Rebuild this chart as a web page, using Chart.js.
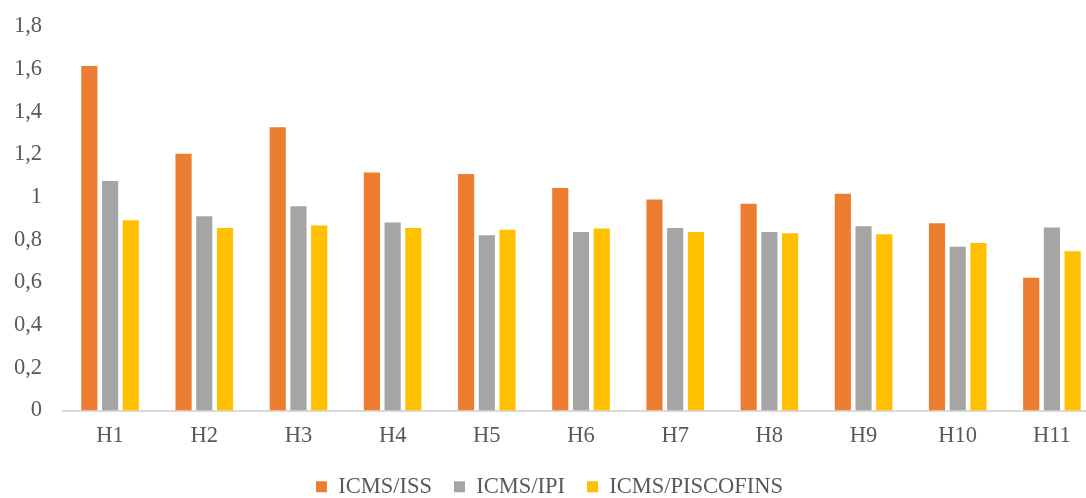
<!DOCTYPE html>
<html>
<head>
<meta charset="utf-8">
<script src="https://cdn.jsdelivr.net/npm/chart.js@4/dist/chart.umd.min.js"></script>
<style>
  html, body { margin: 0; padding: 0; background: #fff; overflow: hidden; }
  #wrap { width: 1100px; height: 498px; overflow: hidden; }
</style>
</head>
<body>
<div id="wrap"><canvas id="grafico" width="1100" height="508"></canvas></div>
<script>
// categorias e valores
const categorias = ['H1', 'H2', 'H3', 'H4', 'H5', 'H6', 'H7', 'H8', 'H9', 'H10', 'H11'];
const icmsIss = [1.615, 1.203, 1.328, 1.116, 1.109, 1.043, 0.989, 0.969, 1.016, 0.878, 0.622];
const icmsIpi = [1.076, 0.911, 0.958, 0.881, 0.822, 0.837, 0.855, 0.837, 0.864, 0.767, 0.858];
const icmsPiscofins = [0.892, 0.856, 0.867, 0.856, 0.847, 0.853, 0.837, 0.831, 0.826, 0.785, 0.746];

const corTexto = '#595959';
const fonte = { family: "'Liberation Serif', 'Times New Roman', serif", size: 22.5 };

const dados = {
  labels: categorias,
  datasets: [
    { label: 'ICMS/ISS', data: icmsIss, backgroundColor: '#ED7D31' },
    { label: 'ICMS/IPI', data: icmsIpi, backgroundColor: '#A5A5A5' },
    { label: 'ICMS/PISCOFINS', data: icmsPiscofins, backgroundColor: '#FFC000' }
  ]
};

const config = {
  type: 'bar',
  data: dados,
  options: {
    responsive: false,
    animation: false,
    devicePixelRatio: 1,
    categoryPercentage: 0.66,
    barPercentage: 0.78,
    layout: { padding: { top: 2, right: 1, bottom: 0, left: 0 } },
    plugins: {
      legend: {
        position: 'bottom',
        labels: { boxWidth: 11, boxHeight: 11, padding: 22, color: corTexto, font: fonte }
      },
      tooltip: { enabled: false },
      title: { display: false }
    },
    scales: {
      x: {
        grid: { display: false },
        border: { display: true, color: '#D9D9D9', width: 2 },
        afterFit: (s) => { s.height = 43; },
        ticks: { color: corTexto, font: fonte, padding: 4 }
      },
      y: {
        min: 0,
        max: 1.8,
        grid: { display: false },
        border: { display: false },
        afterFit: (s) => { s.width = 63; },
        ticks: {
          stepSize: 0.2,
          color: corTexto,
          font: fonte,
          padding: 13,
          callback: (v) => {
            const r = Math.round(v * 10) / 10;
            return Number.isInteger(r) ? String(r) : r.toFixed(1).replace('.', ',');
          }
        }
      }
    }
  }
};

const grafico = new Chart(document.getElementById('grafico'), config);
</script>
</body>
</html>
